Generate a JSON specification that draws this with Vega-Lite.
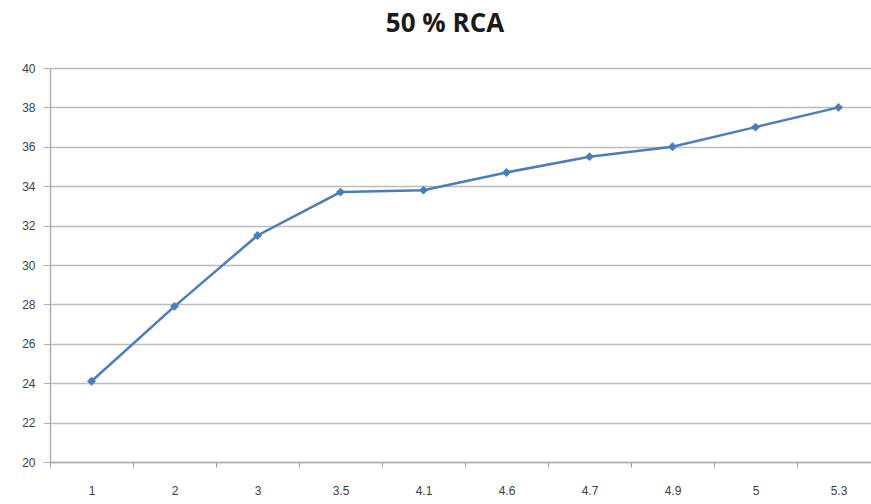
{
  "$schema": "https://vega.github.io/schema/vega-lite/v6.json",
  "autosize": "none",
  "width": 830,
  "height": 394,
  "padding": {"left": 50, "top": 68, "right": -9, "bottom": 42},
  "background": "white",
  "title": {
    "text": "50 % RCA",
    "font": "Open Sans",
    "fontSize": 26,
    "fontWeight": "bold",
    "color": "#1a1a1a",
    "anchor": "middle",
    "frame": "group",
    "dx": -20,
    "offset": 25
  },
  "data": {
    "values": [
      {"x": "1", "y": 24.1},
      {"x": "2", "y": 27.9},
      {"x": "3", "y": 31.5},
      {"x": "3.5", "y": 33.7},
      {"x": "4.1", "y": 33.8},
      {"x": "4.6", "y": 34.7},
      {"x": "4.7", "y": 35.5},
      {"x": "4.9", "y": 36.0},
      {"x": "5", "y": 37.0},
      {"x": "5.3", "y": 38.0}
    ]
  },
  "config": {
    "view": {"stroke": null},
    "axis": {"labelFont": "Liberation Sans", "labelFontSize": 12, "labelColor": "#404040", "titleFontSize": 0}
  },
  "encoding": {
    "x": {
      "field": "x",
      "type": "ordinal",
      "sort": null,
      "scale": {"paddingInner": 0, "paddingOuter": 0},
      "axis": {
        "title": null,
        "labelAngle": 0,
        "tickBand": "extent",
        "tickSize": 5,
        "tickColor": "#999999",
        "domainColor": "#b0b0b0",
        "domainWidth": 1.5,
        "labelPadding": 18,
        "grid": false
      }
    },
    "y": {
      "field": "y",
      "type": "quantitative",
      "scale": {"domain": [20, 40], "nice": false, "zero": false},
      "axis": {
        "title": null,
        "values": [20, 22, 24, 26, 28, 30, 32, 34, 36, 38, 40],
        "tickSize": 7,
        "tickColor": "#b0b0b0",
        "domainColor": "#b0b0b0",
        "domainWidth": 1.5,
        "gridColor": "#bdbdbd",
        "gridWidth": 1.5,
        "labelPadding": 8
      }
    }
  },
  "layer": [
    {
      "mark": {"type": "line", "color": "#4a7ebb", "strokeWidth": 2.5}
    },
    {
      "mark": {"type": "point", "shape": "diamond", "filled": true, "color": "#4a7ebb", "size": 80, "opacity": 1}
    }
  ]
}
